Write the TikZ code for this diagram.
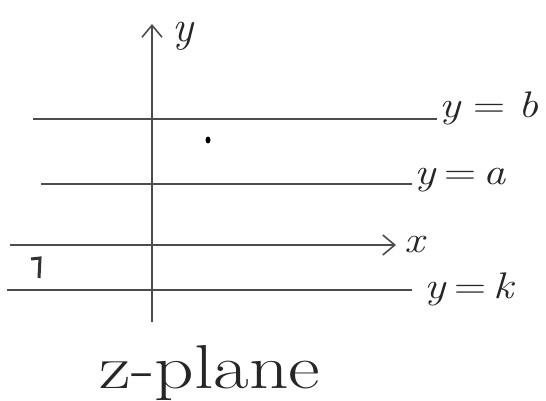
\documentclass[tikz,border=0pt]{standalone}
\usepackage{fontspec}
\setmainfont{Latin Modern Roman}
\usetikzlibrary{arrows.meta,shapes.geometric}
\newcommand{\vi}[1]{\textit{#1}}
\newcommand{\wide}[1]{\scalebox{1.2}[1]{#1}}
\begin{document}
\begin{tikzpicture}[x=1pt,y=-1pt,
  ln/.style={draw=black!70, line width=1.6pt},
  lbl/.style={text=black!85, inner sep=0pt, font=\fontsize{37}{37}\selectfont},
  tip/.style={-{Straight Barb[length=12pt,width=20pt,line width=1.6pt]}}]
\useasboundingbox (0,0) rectangle (546,401);
% axes
\coordinate (ybot) at (152,322);
\coordinate (ytop) at (152,24);
\draw[ln, tip] (ybot) -- (ytop);
\node[lbl, anchor=west, font=\fontsize{44}{44}\selectfont] (ylab) at (172,36) {\vi{y}};
\coordinate (xl) at (10,245);
\coordinate (xr) at (396,245);
\draw[ln, tip] (xl) -- (xr);
\node[lbl, anchor=base west] (xlab) at (404,252) {\wide{\vi{x}}};
% horizontal lines
\coordinate (bl) at (33,119);
\coordinate (br) at (437,119);
\draw[ln] (bl) -- (br);
\node[lbl, anchor=base west] (blab) at (439,118) {\wide{\vi{y}\;=\;\vi{b}}};
\coordinate (al) at (41,184);
\coordinate (ar) at (412,184);
\draw[ln] (al) -- (ar);
\node[lbl, anchor=base west] (alab) at (414,184) {\wide{\vi{y}\,=\,\vi{a}}};
\coordinate (kl) at (7,290);
\coordinate (kr) at (412,290);
\draw[ln] (kl) -- (kr);
\node[lbl, anchor=base west] (klab) at (424,298) {\wide{\vi{y}\,=\,\vi{k}}};
% dot and stray mark
\node[fill=black, ellipse, inner sep=0pt, minimum width=5pt, minimum height=7pt] (dot) at (208,140) {};
\draw[line width=3pt, black!80] (31,259) -- (40,258) -- (39,278);
% caption
\node[inner sep=0pt, text=black!85, anchor=base, font=\fontsize{62}{62}\selectfont] (cap) at (210,388) {\scalebox{1.25}[1]{z-plane}};
\end{tikzpicture}
\end{document}
